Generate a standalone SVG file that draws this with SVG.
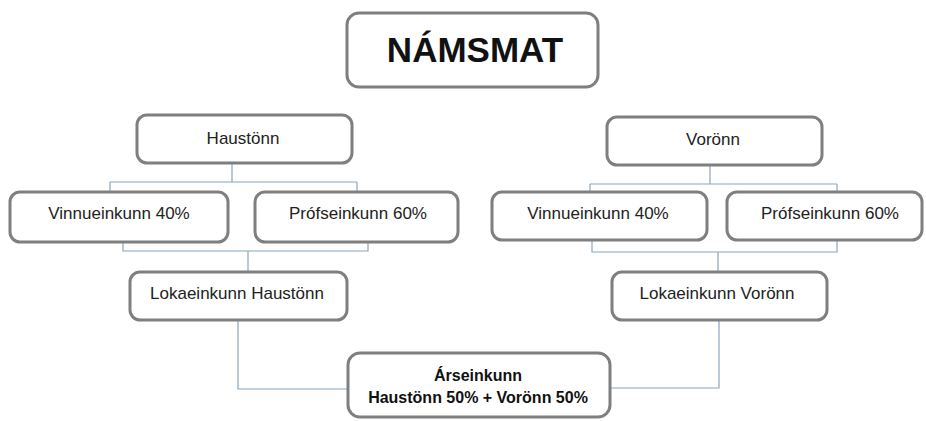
<svg xmlns="http://www.w3.org/2000/svg" width="926" height="421" viewBox="0 0 926 421">
<style>
.box{fill:#fff;stroke:#7f7f7f;stroke-width:3}
.t{font-family:"Liberation Sans",Arial,sans-serif;font-size:17px;fill:#222;text-anchor:middle}
.b{font-weight:bold;fill:#111}
.c{fill:none;stroke:#8aa6be;stroke-width:1.2}
</style>
<rect width="926" height="421" fill="#fff"/>
<g id="connectors">
<path class="c" d="M232 163V182M110 182H357M110 182V192M357 182V192"/>
<path class="c" d="M123 242V251H368V242M248 251V272"/>
<path class="c" d="M710 165V184M590 184H837M590 184V192M837 184V192"/>
<path class="c" d="M592 240V252H837V240M718 252V272"/>
<path class="c" d="M238 320V389H348"/>
<path class="c" d="M719 320V388H610"/>
</g>
<g id="namsmat">
<rect class="box" x="347" y="13" width="251" height="74" rx="12"/>
<text class="t b" x="475" y="62" style="font-size:35px">NÁMSMAT</text>
</g>
<g id="haustonn">
<rect class="box" x="137" y="115" width="215" height="48" rx="10"/>
<text class="t" x="243" y="144">Haustönn</text>
</g>
<g id="vorOnn">
<rect class="box" x="607" y="117" width="215" height="48" rx="10"/>
<text class="t" x="713" y="145">Vorönn</text>
</g>
<g id="vinnu-h">
<rect class="box" x="10" y="192" width="218" height="50" rx="10"/>
<text class="t" x="119" y="219">Vinnueinkunn 40%</text>
</g>
<g id="prof-h">
<rect class="box" x="255" y="192" width="203" height="50" rx="10"/>
<text class="t" x="358" y="219">Prófseinkunn 60%</text>
</g>
<g id="vinnu-v">
<rect class="box" x="492" y="192" width="215" height="48" rx="10"/>
<text class="t" x="598" y="219">Vinnueinkunn 40%</text>
</g>
<g id="prof-v">
<rect class="box" x="727" y="192" width="195" height="48" rx="10"/>
<text class="t" x="830" y="219">Prófseinkunn 60%</text>
</g>
<g id="loka-h">
<rect class="box" x="130" y="272" width="217" height="48" rx="10"/>
<text class="t" x="237" y="299">Lokaeinkunn Haustönn</text>
</g>
<g id="loka-v">
<rect class="box" x="612" y="272" width="215" height="48" rx="10"/>
<text class="t" x="717" y="299">Lokaeinkunn Vorönn</text>
</g>
<g id="arseinkunn">
<rect class="box" x="348" y="353" width="262" height="64" rx="12"/>
<text class="t b" x="478" y="381" style="font-size:16px">Árseinkunn</text>
<text class="t b" x="478" y="403" style="font-size:16px">Haustönn 50% + Vorönn 50%</text>
</g>
</svg>
